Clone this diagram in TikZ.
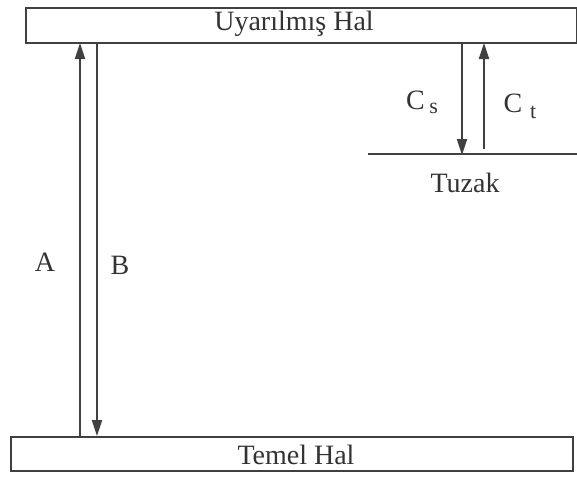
\documentclass[tikz,border=0pt]{standalone}
\usepackage{fontspec}
\setmainfont{Liberation Serif}
\usetikzlibrary{arrows.meta}
\begin{document}
\begin{tikzpicture}[x=1pt,y=-1pt,
  lvl/.style={draw=black!75,line width=1.6pt,inner sep=0pt,anchor=north west},
  lbl/.style={font=\fontsize{28}{32}\selectfont,text=black!80,inner sep=0pt},
  arr/.style={draw=black!75,line width=1.8pt,-{Triangle[length=16pt,width=10pt]}}]
\useasboundingbox (0,0) rectangle (577,477);
\node[lvl,minimum width=551pt,minimum height=35pt] (top) at (25,7) {};
\node[lbl] at (294,24) {Uyarılmış Hal};
\node[lvl,minimum width=562pt,minimum height=34pt] (bot) at (10,436) {};
\node[lbl] at (296,455) {Temel Hal};
\coordinate (aS) at (80,436); \coordinate (aE) at (80,43);
\coordinate (bS) at (97,42); \coordinate (bE) at (97,436);
\draw[arr] (aS) -- (aE);
\draw[arr] (bS) -- (bE);
\node[lbl] (A) at (45,262) {A};
\node[lbl] (B) at (120,265) {B};
\coordinate (trapL) at (368,154); \coordinate (trapR) at (577,154);
\draw[draw=black!75,line width=1.2pt] (trapL) -- (trapR);
\node[lbl] (tuzak) at (465,183) {Tuzak};
\coordinate (cS) at (462,43); \coordinate (cE) at (462,155);
\coordinate (tS) at (484,149); \coordinate (tE) at (484,43);
\draw[arr] (cS) -- (cE);
\draw[arr] (tS) -- (tE);
\node[lbl] (cs) at (422,102) {C\,\raisebox{-4pt}{\fontsize{22}{24}\selectfont s}};
\node[lbl] (ct) at (520,106) {C\;\raisebox{-6pt}{\fontsize{22}{24}\selectfont t}};
\end{tikzpicture}
\end{document}
